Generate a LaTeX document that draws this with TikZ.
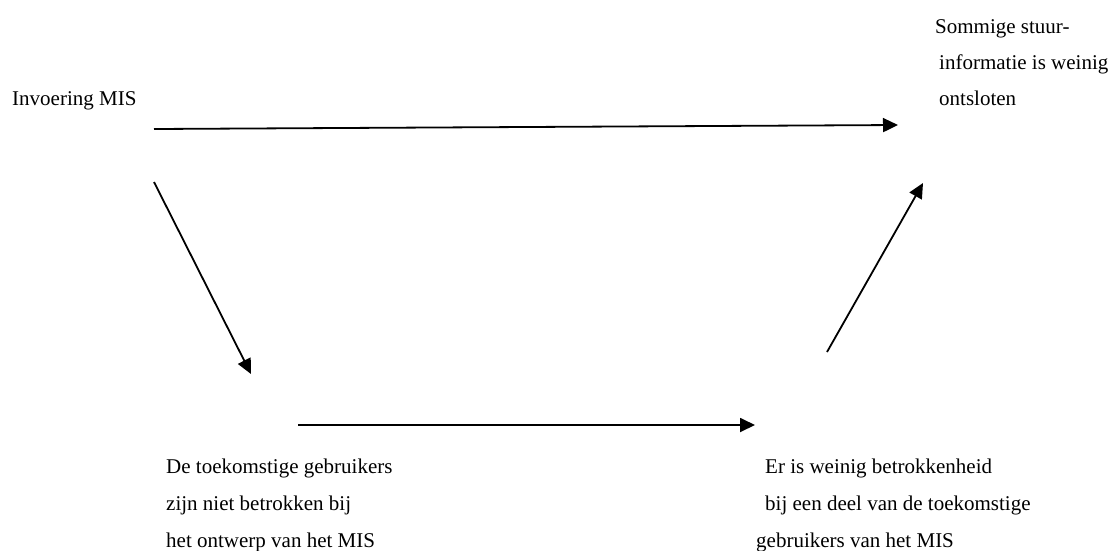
\documentclass[tikz,border=0pt]{standalone}
\usepackage{fontspec}
\setmainfont{Liberation Serif}
\usetikzlibrary{arrows.meta}
\tikzset{
  lbl/.style={anchor=base west, inner sep=0pt, font=\fontsize{21}{25}\selectfont},
  arr/.style={line width=1.8pt, -{Triangle[length=15pt,width=14pt]}}
}
\begin{document}
\begin{tikzpicture}[x=1pt,y=-1pt]
\useasboundingbox (0,0) rectangle (1114,550);
% texts
\node[lbl] (inv) at (12,105) {Invoering MIS};
\node[lbl] (s1) at (935,33) {Sommige stuur-};
\node[lbl] (s2) at (939,69) {informatie is weinig};
\node[lbl] (s3) at (939,105) {ontsloten};
\node[lbl] (d1) at (166,473) {De toekomstige gebruikers};
\node[lbl] (d2) at (166,510) {zijn niet betrokken bij};
\node[lbl] (d3) at (166,547) {het ontwerp van het MIS};
\node[lbl] (e1) at (765,473) {Er is weinig betrokkenheid};
\node[lbl] (e2) at (765,510) {bij een deel van de toekomstige};
\node[lbl] (e3) at (756,547) {gebruikers van het MIS};
% connector end points
\coordinate (a1) at (154,129);
\coordinate (a2) at (898,125);
\coordinate (b1) at (154,182);
\coordinate (b2) at (251,374);
\coordinate (c1) at (298,425);
\coordinate (c2) at (755,425);
\coordinate (u1) at (827,352);
\coordinate (u2) at (923,183);
\draw[arr] (a1) -- (a2);
\draw[arr] (b1) -- (b2);
\draw[arr] (c1) -- (c2);
\draw[arr] (u1) -- (u2);
\end{tikzpicture}
\end{document}
